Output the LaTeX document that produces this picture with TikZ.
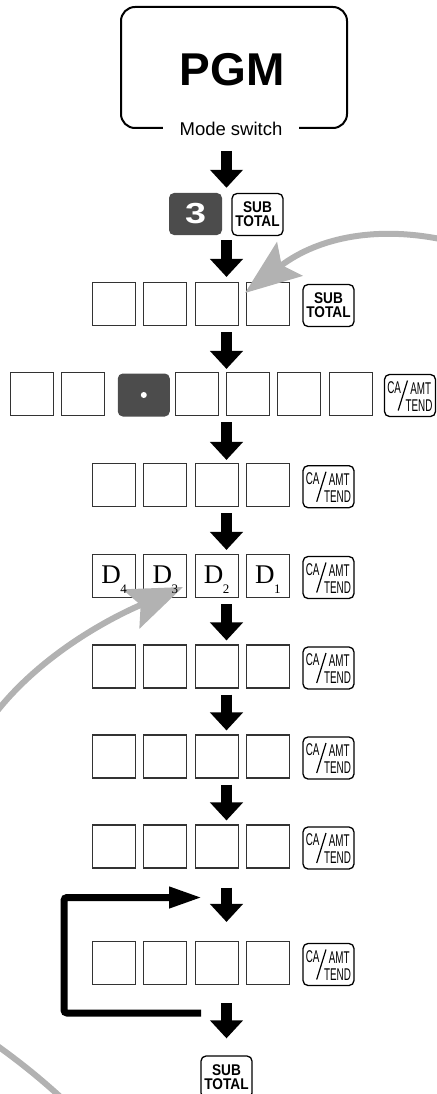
\documentclass[tikz,border=0pt]{standalone}
\usepackage{fontspec}
\setmainfont{Liberation Sans}
\newfontfamily\dfont{Liberation Serif}
\newfontfamily\narrowfont[FakeStretch=0.58]{Liberation Sans}
\newfontfamily\keyfont[FakeStretch=0.88]{Liberation Sans}
\newfontfamily\widefont[FakeStretch=1.3]{Liberation Sans}
\usepackage{tikz}
\usetikzlibrary{arrows.meta,positioning,calc}

\tikzset{
  digitbox/.style={draw=black!80, line width=1.1pt, minimum width=43pt, minimum height=43pt, inner sep=0pt},
  keybox/.style={draw=black, line width=1.3pt, rounded corners=5pt, minimum width=51pt, minimum height=42pt, inner sep=0pt},
  darkkey/.style={fill=black!70, rounded corners=5pt, minimum width=53pt, minimum height=42pt, inner sep=0pt, text=white},
  camtfont/.style={inner sep=0pt, font=\narrowfont\fontsize{17}{17}\selectfont},
  subfont/.style={font=\keyfont\bfseries\fontsize{15.5}{14}\selectfont, align=center},
  downarrow/.style={line width=11pt, -{Triangle[length=18pt,width=32pt]}},
  loopline/.style={line width=7pt, rounded corners=3pt, -{Triangle[length=33pt,width=20pt]}},
  grayarrow/.style={draw=black!30, line width=6pt, -{Stealth[length=56pt,width=42pt,inset=10pt]}},
}

% CA/AMT TEND key
\newcommand{\camtkey}[3]{%
  \node[keybox] (#1) at (#2,#3) {};
  \node[camtfont] (#1ca) at ([shift={(-15.8,-8)}]#1.center) {CA};
  \node[camtfont] (#1amt) at ([shift={(10.7,-7)}]#1.center) {AMT};
  \node[camtfont] (#1tend) at ([shift={(9,10)}]#1.center) {TEND};
  \draw[line width=1.2pt] ([shift={(-11.8,15)}]#1.center) -- ([shift={(-2.5,-15)}]#1.center);
}

\begin{document}
\begin{tikzpicture}[x=1pt,y=-1pt]
	\useasboundingbox (0,0) rectangle (436,1094);
	\coordinate (ax) at (226.5,0);
	
	% Mode switch
	\node[draw, line width=2pt, rounded corners=14pt, minimum width=226pt, minimum height=121pt] (mode) at (234,67.5) {};
	\node[font=\bfseries\fontsize{46}{46}\selectfont] (pgm) at (232,70) {PGM};
	\node[fill=white, inner xsep=17pt, inner ysep=2pt, font=\fontsize{18.5}{18.5}\selectfont] (modesw) at ([xshift=-3pt]mode.south) {Mode switch};
	
	% 3 and SUB TOTAL
	\node[darkkey, font=\widefont\bfseries\fontsize{29}{29}\selectfont] (kthree) at (195.5,214) {3};
	\node[keybox, subfont] (ksub) at (257.5,214.5) {SUB\\TOTAL};
	
	% Rows of four digits
	\foreach \r/\y in {1/304,3/485,4/576,5/666.5,6/756.5,7/846.5,8/963}{
		\foreach \i/\x in {1/114,2/165.3,3/216.6,4/267.9}
			\node[digitbox] (r\r-\i) at (\x,\y) {};
	}
	\node[keybox, subfont] (ksub1) at (328.5,305.5) {SUB\\TOTAL};
	\foreach \r/\y in {3/486.7,4/577.5,5/668,6/758,7/848,8/964.5}
		\camtkey{ca\r}{328.5}{\y};
	
	% Row with decimal point
	\node[digitbox] (r2-1) at (31.7,394) {};
	\node[digitbox] (r2-2) at (82.7,394) {};
	\node[darkkey, minimum width=52pt, minimum height=43pt] (r2dot) at (143.8,395) {};
	\fill[white] (r2dot.center) circle (3pt);
	\foreach \i/\x in {3/196.7,4/247.7,5/299,6/350.7}
		\node[digitbox] (r2-\i) at (\x,394) {};
	\camtkey{ca2}{410}{395.5}
	
	% Final key
	\node[keybox, subfont] (kend) at (226.5,1077) {SUB\\TOTAL};
	
	% Down arrows
	\draw[downarrow, shorten <=22pt, shorten >=5pt] (mode.south -| ax) -- (kthree.north -| ax);
	\draw[downarrow, shorten <=5pt, shorten >=5pt] (kthree.south -| ax) -- (r1-3.north -| ax);
	\draw[downarrow, shorten <=6pt, shorten >=3pt] (r1-3.south -| ax) -- (r2-4.north -| ax);
	\draw[downarrow, shorten <=6pt, shorten >=3pt] (r2-4.south -| ax) -- (r3-3.north -| ax);
	\foreach \a/\b in {3/4,4/5,5/6,6/7}
		\draw[downarrow, shorten <=6pt, shorten >=4pt] (r\a-3.south -| ax) -- (r\b-3.north -| ax);
	\draw[downarrow, shorten <=19pt, shorten >=19pt] (r7-3.south -| ax) -- (r8-3.north -| ax);
	\draw[downarrow, shorten <=18pt, shorten >=17pt] (r8-3.south -| ax) -- (kend.north -| ax);
	
	% Repeat loop
	\coordinate (loopout) at (201,1013);
	\coordinate (loopin) at (202,897.5);
	\draw[loopline] (loopout) -- ++(-137,0) |- (loopin);
	
	% Gray return arrows
	\coordinate (gA) at (445,240);
	\coordinate (gAtip) at (245,293);
	\draw[grayarrow] (gA) .. controls (380,226) and (320,236) .. (gAtip);
	\coordinate (gB) at (-6,715);
	\coordinate (gBtip) at (183,587);
	\draw[grayarrow] (gB) .. controls (40,655) and (110,618) .. (gBtip);
	\coordinate (gC) at (-8,1042);
	\coordinate (gCend) at (66,1102);
	\draw[draw=black!30, line width=6pt] (gC) .. controls (20,1062) and (40,1078) .. (gCend);
	
	% Digit labels
	\foreach \i/\d in {1/4,2/3,3/2,4/1}
		\node[inner sep=0pt, font=\dfont\fontsize{27}{27}\selectfont] (d\d) at ([yshift=-4pt]r4-\i.center) {D\kern-0.5pt\raisebox{-10pt}{\fontsize{13}{13}\selectfont\d}};
\end{tikzpicture}
\end{document}
